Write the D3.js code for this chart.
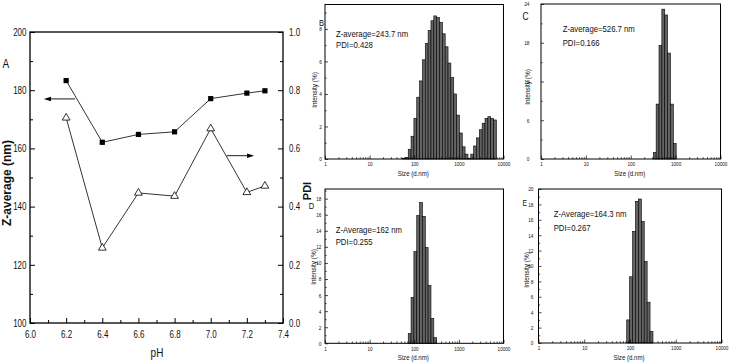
<!DOCTYPE html>
<html lang="en">
<head>
<meta charset="UTF-8">
<title>DLS</title>
<style>
  body { margin: 0; background: #fff; }
  svg { display: block; }
</style>
</head>
<body>
<script src="https://d3js.org/d3.v7.min.js"></script>
<script>
// panel A
const ph = [6.2, 6.4, 6.6, 6.8, 7.0, 7.2, 7.3]
const zAverage = [183.3, 162.1, 164.8, 165.7, 177.1, 179.0, 179.8]
const pdi = [0.705, 0.258, 0.447, 0.436, 0.668, 0.449, 0.471]
const phTicks = [6.0, 6.2, 6.4, 6.6, 6.8, 7.0, 7.2, 7.4]
const zTicks = [100, 120, 140, 160, 180, 200]
const pdiTicks = [0.0, 0.2, 0.4, 0.6, 0.8, 1.0]

// size distributions (bin centres in nm, intensity in %)
const sizeTicks = [1, 10, 100, 1000, 10000]
const sizesB = [58.77, 68.06, 78.82, 91.28, 105.7, 122.4, 141.8, 164.2, 190.1, 220.2, 255.0, 295.3,
  342.0, 396.1, 458.7, 531.2, 615.1, 712.4, 825.0, 955.4, 1106, 1281, 1484,
  1718, 1990, 2305, 2669, 3091, 3580, 4145, 4801, 5560, 6439]
const intensityB = [0.05, 0.1, 0.6, 1.4, 2.5, 3.8, 4.8, 6.1, 7.1, 7.9, 8.5, 8.8,
  8.7, 8.4, 7.7, 6.9, 5.9, 5.0, 4.0, 2.7, 1.6, 0.75, 0.3,
  0.05, 0.3, 0.8, 1.3, 1.8, 2.2, 2.5, 2.6, 2.5, 2.4]
const sizesC = [342.0, 396.1, 458.7, 531.2, 615.1, 712.4, 825.0, 955.4]
const intensityC = [1.0, 8.5, 17.6, 23.2, 22.3, 16.4, 8.5, 2.4]
const sizesD = [78.82, 91.28, 105.7, 122.4, 141.8, 164.2, 190.1, 220.2, 255.0, 295.3]
const intensityD = [1.2, 5.7, 11.4, 15.9, 17.5, 15.8, 11.9, 7.2, 3.1, 0.7]
const sizesE = [91.28, 105.7, 122.4, 141.8, 164.2, 190.1, 220.2, 255.0, 295.3]
const intensityE = [3.0, 8.6, 14.5, 18.4, 18.7, 15.8, 10.6, 5.3, 1.5]

const font = "'Liberation Sans', Arial, sans-serif"
const squeeze = 0.8   // no narrow face installed, so text is compressed horizontally

const svg = d3.select('body').append('svg')
  .attr('width', 731)
  .attr('height', 364)

// ---------- panel A ----------
const xA = d3.scaleLinear().domain([6.0, 7.4]).range([30, 283])
const yA = d3.scaleLinear().domain([100, 200]).range([323, 32])
const yP = d3.scaleLinear().domain([0, 1]).range([323, 32])

function styleAxis(g, size) {
  g.select('.domain').remove()
  g.selectAll('line').attr('stroke', '#000').attr('stroke-width', 1)
  g.selectAll('text')
    .attr('font-family', font).attr('font-size', size).attr('fill', '#111')
    .attr('transform', function () {
      const x = +d3.select(this).attr('x') || 0
      return `translate(${x * (1 - squeeze)},0) scale(${squeeze},1)`
    })
}

// text placed at (x,y), optionally rotated, squeezed along its own direction
function label(g, txt, size, x, y, rot = 0) {
  return g.append('text')
    .attr('transform', `translate(${x},${y}) rotate(${rot}) scale(${squeeze},1)`)
    .attr('font-family', font).attr('font-size', size).attr('fill', '#111').text(txt)
}

const gA = svg.append('g')

gA.append('g').attr('transform', 'translate(0,323)')
  .call(d3.axisBottom(xA).tickValues(phTicks).tickSize(-5).tickSizeOuter(0)
    .tickPadding(7.5).tickFormat(d3.format('.1f')))
  .call(g => styleAxis(g, 10))
gA.append('g').attr('transform', 'translate(0,323)')
  .call(d3.axisBottom(xA).tickValues(d3.range(6.1, 7.4, 0.2)).tickSize(-3).tickSizeOuter(0).tickFormat(''))
  .call(g => styleAxis(g, 10))

gA.append('g').attr('transform', 'translate(30,0)')
  .call(d3.axisLeft(yA).tickValues(zTicks).tickSize(-5).tickSizeOuter(0).tickPadding(3.5))
  .call(g => styleAxis(g, 10))
gA.append('g').attr('transform', 'translate(30,0)')
  .call(d3.axisLeft(yA).tickValues(d3.range(110, 200, 20)).tickSize(-3).tickSizeOuter(0).tickFormat(''))
  .call(g => styleAxis(g, 10))

gA.append('g').attr('transform', 'translate(283,0)')
  .call(d3.axisRight(yP).tickValues(pdiTicks).tickSize(-5).tickSizeOuter(0)
    .tickPadding(6).tickFormat(d3.format('.1f')))
  .call(g => styleAxis(g, 10))
gA.append('g').attr('transform', 'translate(283,0)')
  .call(d3.axisRight(yP).tickValues(d3.range(0.1, 1, 0.2)).tickSize(-3).tickSizeOuter(0).tickFormat(''))
  .call(g => styleAxis(g, 10))

gA.append('rect')
  .attr('x', 30).attr('y', 32).attr('width', 253).attr('height', 291)
  .attr('fill', 'none').attr('stroke', '#000').attr('stroke-width', 1.3)

const lineZ = d3.line().x((d, i) => xA(ph[i])).y(d => yA(d))
const lineP = d3.line().x((d, i) => xA(ph[i])).y(d => yP(d))

gA.append('path').attr('d', lineZ(zAverage))
  .attr('fill', 'none').attr('stroke', '#000').attr('stroke-width', 0.8)
gA.append('path').attr('d', lineP(pdi))
  .attr('fill', 'none').attr('stroke', '#000').attr('stroke-width', 0.8)

gA.selectAll('.sq').data(zAverage).enter().append('rect')
  .attr('x', (d, i) => xA(ph[i]) - 2.6)
  .attr('y', d => yA(d) - 2.6)
  .attr('width', 5.2).attr('height', 5.2)
  .attr('fill', '#000')

const tri = d3.symbol(d3.symbolTriangle, 26)
gA.selectAll('.tri').data(pdi).enter().append('path')
  .attr('d', tri)
  .attr('transform', (d, i) => `translate(${xA(ph[i])},${yP(d)})`)
  .attr('fill', '#fff').attr('stroke', '#000').attr('stroke-width', 0.8)

// arrows pointing to the matching axis
function arrow(x1, x2, y) {
  const dir = Math.sign(x2 - x1)
  gA.append('line')
    .attr('x1', x1).attr('x2', x2 - dir * 5).attr('y1', y).attr('y2', y)
    .attr('stroke', '#000').attr('stroke-width', 0.9)
  gA.append('path')
    .attr('d', `M${x2},${y}L${x2 - dir * 7},${y - 2.3}L${x2 - dir * 7},${y + 2.3}Z`)
    .attr('fill', '#000')
}
arrow(xA(6.25), xA(6.077), yA(177))
arrow(xA(7.09), xA(7.24), yP(0.575))

label(gA, 'A', 12.5, 2.5, 67.5)
label(gA, 'pH', 12.5, 157, 356.5).attr('text-anchor', 'middle')
gA.append('text')
  .attr('transform', 'translate(10.5,183) rotate(-90)')
  .attr('text-anchor', 'middle')
  .attr('font-family', font).attr('font-weight', 'bold').attr('font-size', 12)
  .attr('fill', '#111').text('Z-average (nm)')
gA.append('text')
  .attr('transform', 'translate(311,191) rotate(-90)')
  .attr('text-anchor', 'middle')
  .attr('font-family', font).attr('font-weight', 'bold').attr('font-size', 11)
  .attr('fill', '#111').text('PDI')

// ---------- size distribution panels ----------
const panels = [
  { letter: 'B', sizes: sizesB, values: intensityB, box: [325, 4.5, 503.5, 159], yMax: 9.5, yStep: 2,
    yTop: 8, labelGap: 3, xPad: 3, z: 'Z-average=243.7 nm', p: 'PDI=0.428', textAt: [336, 36.5, 47.7],
    letterAt: [321.5, 26, 9.5], titleX: 316.5, titleY: 90, sizeY: 176 },
  { letter: 'C', sizes: sizesC, values: intensityC, box: [541, 4, 720.5, 159], yMax: 24, yStep: 6,
    yTop: 24, labelGap: 11.5, xPad: 3, z: 'Z-average=526.7 nm', p: 'PDI=0.166', textAt: [562.7, 32.3, 45.6],
    letterAt: [525.5, 19.5, 10.5], titleX: 529.5, titleY: 87, sizeY: 176 },
  { letter: 'D', sizes: sizesD, values: intensityD, box: [325, 189, 503.5, 343.3], yMax: 19.2, yStep: 2,
    yTop: 18, labelGap: 3.5, xPad: 4, z: 'Z-Average=162 nm', p: 'PDI=0.255', textAt: [335.7, 233.2, 244.6],
    letterAt: [311.5, 208.5, 9.5], titleX: 315.5, titleY: 267, sizeY: 360 },
  { letter: 'E', sizes: sizesE, values: intensityE, box: [538.5, 189, 721.5, 343], yMax: 20, yStep: 2,
    yTop: 20, labelGap: 5, xPad: 3, z: 'Z-Average=164.3 nm', p: 'PDI=0.267', textAt: [553.7, 216.6, 230.6],
    letterAt: [524.7, 206.3, 8.5], titleX: 528.5, titleY: 270, sizeY: 360 }
]

const halfBin = Math.pow(10, Math.log10(10000 / 0.4) / 69 / 2)

panels.forEach(cfg => {
  const [x0, y0, x1, y1] = cfg.box
  const g = svg.append('g')
  const x = d3.scaleLog().domain([1, 10000]).range([x0, x1])
  const y = d3.scaleLinear().domain([0, cfg.yMax]).range([y1, y0])

  // bars
  g.selectAll('.bar').data(cfg.values).enter().append('rect')
    .attr('x', (d, i) => x(cfg.sizes[i] / halfBin))
    .attr('width', (d, i) => x(cfg.sizes[i] * halfBin) - x(cfg.sizes[i] / halfBin))
    .attr('y', d => y(d))
    .attr('height', d => y(0) - y(d))
    .attr('fill', '#636363').attr('stroke', '#000').attr('stroke-width', 0.6)

  // x axis, log ticks pointing inwards
  const minor = []
  sizeTicks.slice(0, -1).forEach(t => { for (let k = 2; k < 10; k++) minor.push(t * k) })
  g.append('g').attr('transform', `translate(0,${y1})`)
    .call(d3.axisBottom(x).tickValues(sizeTicks).tickSize(-3.5).tickSizeOuter(0)
      .tickPadding(cfg.xPad).tickFormat(d3.format('d')))
    .call(a => styleAxis(a, 5.8))
  g.append('g').attr('transform', `translate(0,${y1})`)
    .call(d3.axisBottom(x).tickValues(minor).tickSize(-1.8).tickSizeOuter(0).tickFormat(''))
    .call(a => styleAxis(a, 5.8))
  g.selectAll('line').attr('stroke-width', 0.7)

  // y axis
  g.append('g').attr('transform', `translate(${x0},0)`)
    .call(d3.axisLeft(y).tickValues(d3.range(0, cfg.yTop + 0.01, cfg.yStep)).tickSize(-3)
      .tickSizeOuter(0).tickPadding(cfg.labelGap))
    .call(a => styleAxis(a, 6))
  g.append('g').attr('transform', `translate(${x0},0)`)
    .call(d3.axisLeft(y).tickValues(d3.range(cfg.yStep / 2, cfg.yMax, cfg.yStep)).tickSize(-1.6)
      .tickSizeOuter(0).tickFormat(''))
    .call(a => styleAxis(a, 6))
  g.selectAll('line').attr('stroke-width', 0.7)

  g.append('rect')
    .attr('x', x0).attr('y', y0).attr('width', x1 - x0).attr('height', y1 - y0)
    .attr('fill', 'none').attr('stroke', '#000').attr('stroke-width', 1)

  const [tx, ty1, ty2] = cfg.textAt
  label(g, cfg.z, 9.7, tx, ty1)
  label(g, cfg.p, 9.7, tx, ty2)

  const [lx, ly, ls] = cfg.letterAt
  label(g, cfg.letter, ls, lx, ly).attr('text-anchor', 'middle')

  label(g, 'Intensity (%)', 8, cfg.titleX, cfg.titleY, -90).attr('text-anchor', 'middle')
  label(g, 'Size (d.nm)', 7.6, (x0 + x1) / 2 - 1, cfg.sizeY).attr('text-anchor', 'middle')
})
</script>
</body>
</html>
